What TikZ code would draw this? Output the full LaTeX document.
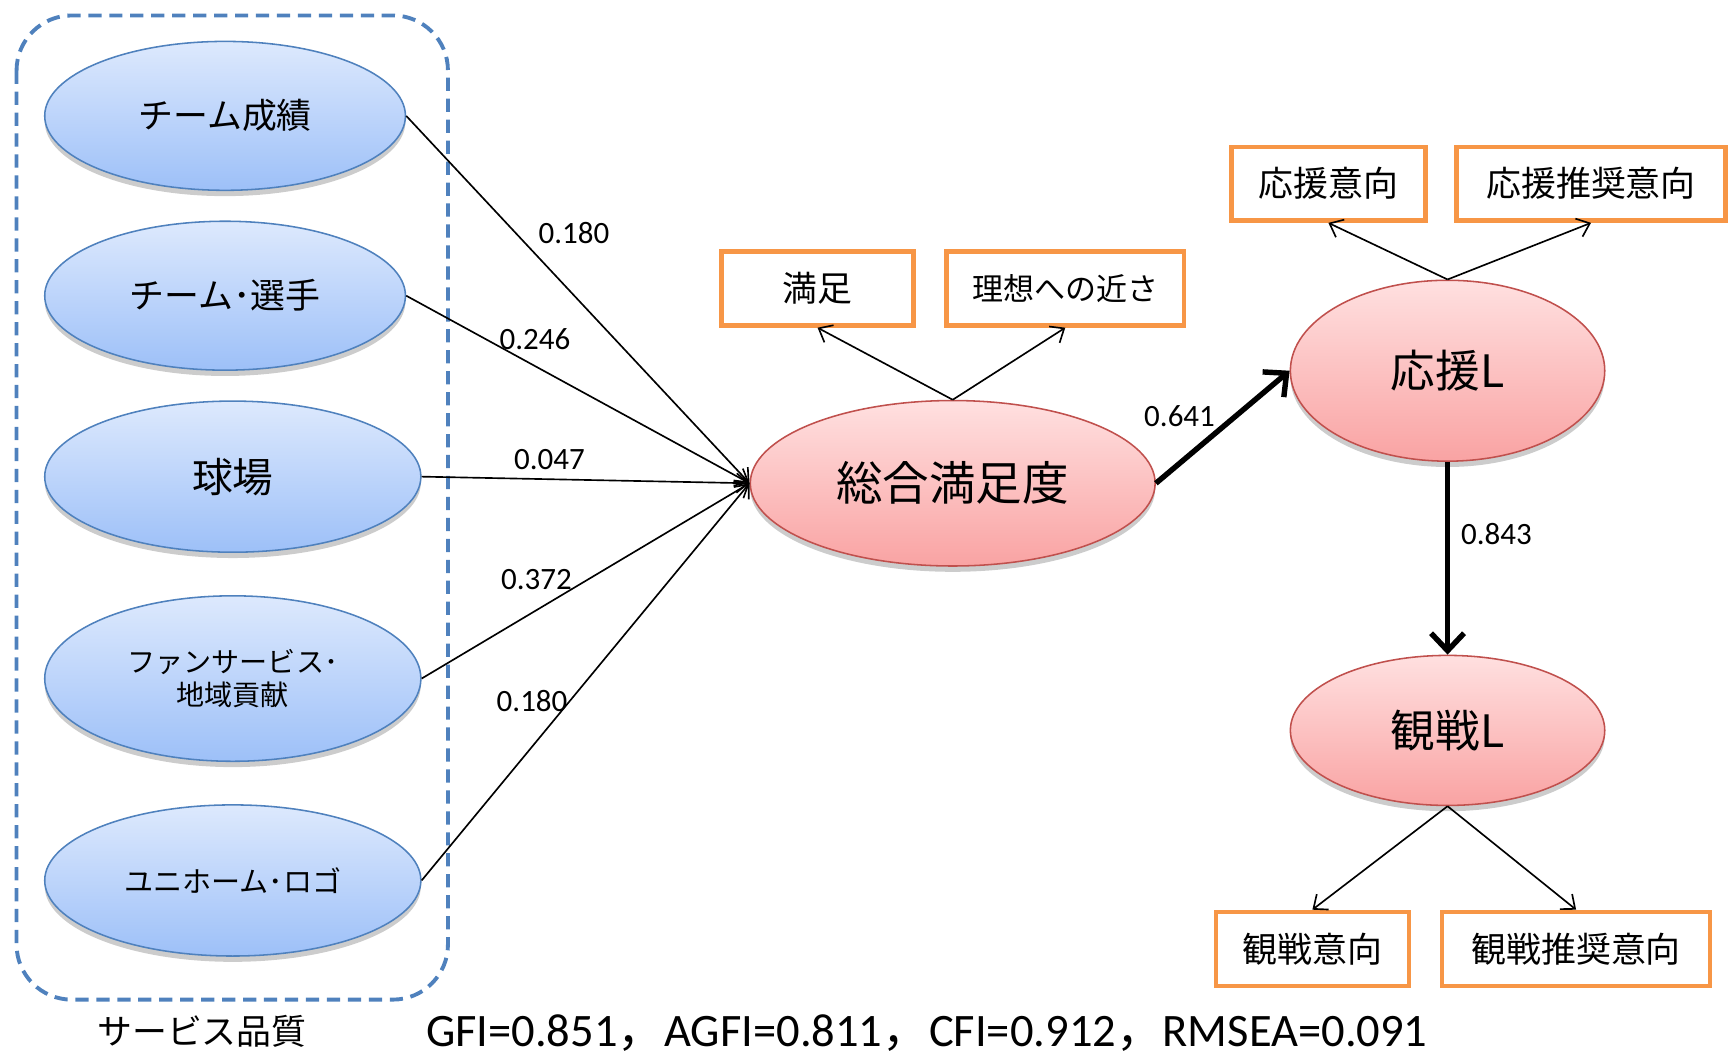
\documentclass[tikz,border=0pt]{standalone}
\usepackage{fontspec}
\setmainfont{Carlito}
\newfontfamily\jp{Noto Sans CJK JP}
\usepackage{tikz}
\usetikzlibrary{positioning}
\usetikzlibrary{arrows.meta,shapes.geometric,shadows}

\definecolor{qline}{HTML}{4F81BD}
\definecolor{qtop}{HTML}{DDE9FD}
\definecolor{qbot}{HTML}{9DC0F8}
\definecolor{lline}{HTML}{C0504D}
\definecolor{ltop}{HTML}{FFE0E0}
\definecolor{lbot}{HTML}{F9A3A3}
\definecolor{oline}{HTML}{F79646}

\begin{document}
\begin{tikzpicture}[x=0.02cm,y=-0.02cm,>={Straight Barb[length=6pt,width=10pt]},
	qual/.style={ellipse,draw=qline,line width=0.8pt,top color=qtop,bottom color=qbot,inner sep=0pt,align=center,
		drop shadow={shadow xshift=0pt,shadow yshift=-3pt,opacity=0.2,fill=black}},
	lat/.style={ellipse,draw=lline,line width=0.8pt,top color=ltop,bottom color=lbot,inner sep=0pt,
		minimum width=5.7cm,font=\jp\fontsize{23}{27}\selectfont,
		drop shadow={shadow xshift=0pt,shadow yshift=-3pt,opacity=0.2,fill=black}},
	obs/.style={rectangle,draw=oline,line width=2.3pt,fill=white,minimum height=1.34cm,inner sep=0pt,font=\jp\fontsize{18}{22}\selectfont},
	wt/.style={font=\fontsize{16}{19}\selectfont,inner sep=1pt},
	lnk/.style={->,line width=0.85pt},
	big/.style={-{Straight Barb[length=9pt,width=17pt]},line width=2.8pt}]
	\useasboundingbox (0,0) rectangle (1568,961);

	\draw[qline,line width=2pt,dash pattern=on 0.24cm off 0.14cm,rounded corners=1cm] (15,14) rectangle (406,906);
	\node[font=\jp\fontsize{18}{22}\selectfont] (svc) at (183,935) {サービス品質};

	\node[qual,minimum width=6.54cm,minimum height=2.7cm,font=\jp\fontsize{18}{22}\selectfont] (perf) at (204,105) {チーム成績};
	\node[qual,minimum width=6.54cm,minimum height=2.7cm,font=\jp\fontsize{18}{22}\selectfont] (team) at (204,268) {チーム･選手};
	\node[qual,minimum width=6.82cm,minimum height=2.74cm,font=\jp\fontsize{21}{25}\selectfont] (park) at (211,432) {球場};
	\node[qual,minimum width=6.82cm,minimum height=3cm,font=\jp\fontsize{14.5}{17.5}\selectfont] (fan) at (211,615) {ファンサービス･\\地域貢献};
	\node[qual,minimum width=6.82cm,minimum height=2.74cm,font=\jp\fontsize{15}{18}\selectfont] (logo) at (211,798) {ユニホーム･ロゴ};

	\node[lat,minimum width=7.34cm,minimum height=3cm,font=\jp\fontsize{24}{28}\selectfont] (total) at (863.5,438) {総合満足度};
	\node[lat,minimum height=3.28cm] (cheer) at (1312,336) {応援L};
	\node[lat,minimum height=2.72cm] (watch) at (1312,662) {観戦L};

	\node[obs,minimum width=3.48cm] (sat) at (741,261.5) {満足};
	\node[obs,minimum width=4.3cm,font=\jp\fontsize{16}{19}\selectfont] (ideal) at (965.5,261.5) {理想への近さ};
	\node[obs,minimum width=3.52cm] (cint) at (1204,166.5) {応援意向};
	\node[obs,minimum width=4.88cm] (crec) at (1442,166.5) {応援推奨意向};
	\node[obs,minimum width=3.5cm] (wint) at (1189.5,860) {観戦意向};
	\node[obs,minimum width=4.86cm] (wrec) at (1428.5,860) {観戦推奨意向};

	\path[lnk]
	(perf.east) edge node[wt,pos=0.32,anchor=west,xshift=0.36cm]{0.180} (total.west)
	(team.east) edge node[wt,pos=0.375,above,yshift=0.24cm]{0.246} (total.west)
	(park.east) edge node[wt,pos=0.39,above,yshift=0.13cm]{0.047} (total.west)
	(fan.east) edge node[wt,pos=0.35,above,yshift=0.32cm]{0.372} (total.west)
	(logo.east) edge node[wt,pos=0.453,anchor=east]{0.180} (total.west)

	(total.north) edge (sat.south)
	(total.north) edge (ideal.south)
	(cheer.north) edge (cint.south)
	(cheer.north) edge (crec.south)
	(watch.south) edge (wint.north)
	(watch.south) edge (wrec.north)
	;

	\path[big]
	(total.east) edge node[wt,pos=0.6,anchor=east,xshift=-0.3cm]{0.641} (cheer.west)
	(cheer.south) edge node[wt,pos=0.375,anchor=west,xshift=0.16cm]{0.843} (watch.north)
	;

	\node[font=\fontsize{24}{28}\selectfont] (fit) at (840,936) {GFI=0.851{\jp ，}AGFI=0.811{\jp ，}CFI=0.912{\jp ，}RMSEA=0.091};
\end{tikzpicture}
\end{document}
